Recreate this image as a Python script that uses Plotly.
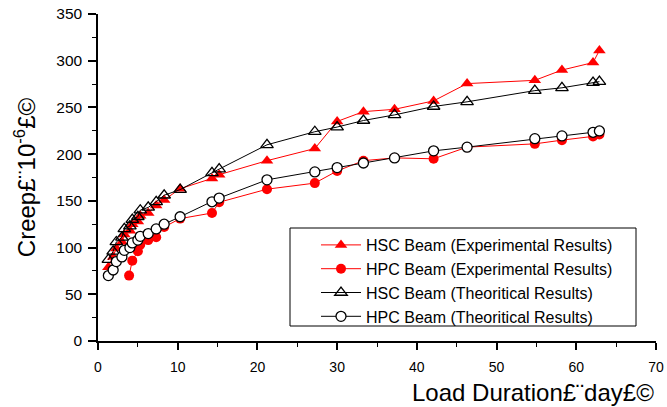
import plotly.graph_objects as go

# Theoretical / HSC experimental share load-duration times
days = [1.3, 1.9, 2.3, 3.0, 3.3, 4.0, 4.3, 5.0, 5.3, 6.3, 7.3, 8.3, 10.3, 14.3, 15.2,
        21.2, 27.2, 30.0, 33.3, 37.2, 42.1, 46.3, 54.8, 58.2, 62.1, 62.9]
hsc_exp = [79, 90, 99, 106, 114, 118, 125, 128, 134, 137, 145, 151, 163, 174, 178,
           193, 206, 235, 245.5, 248, 257, 275.5, 279, 290, 298, 311]
hsc_theo = [87, 96, 106, 111, 120, 123, 130, 133, 140, 143, 149, 156, 162, 180, 184,
            210, 224, 229, 236, 242, 251, 256, 268, 271, 276.5, 277.6]
hpc_theo = [70, 76, 85, 90, 97, 100, 105, 108, 112, 115, 120, 125, 133, 149, 153,
            172.5, 181, 185.6, 190.5, 196, 203.5, 207.5, 216.6, 219.5, 223.4, 224.8]

days_hpc_exp = [3.9, 4.3, 5.0, 5.3, 6.3, 7.3, 8.3, 10.3, 14.3, 15.2, 21.2, 27.2, 30.0,
                33.3, 37.2, 42.1, 46.3, 54.8, 58.2, 62.1, 62.9]
hpc_exp = [70, 86, 96, 103, 108, 111, 122, 131, 137, 148.5, 162.5, 169, 182, 193, 196,
           195, 207.5, 211, 215, 219, 221]

x_ticks = [0, 10, 20, 30, 40, 50, 60, 70]
y_ticks = [0, 50, 100, 150, 200, 250, 300, 350]

FONT = "Liberation Sans, Arial, sans-serif"

fig = go.Figure()
fig.add_trace(go.Scatter(x=days, y=hsc_exp, mode="lines+markers",
                         name="HSC Beam (Experimental Results)",
                         line=dict(color="#ff0000", width=1),
                         marker=dict(symbol="triangle-up", size=11, color="#ff0000")))
fig.add_trace(go.Scatter(x=days_hpc_exp, y=hpc_exp, mode="lines+markers",
                         name="HPC Beam (Experimental Results)",
                         line=dict(color="#ff0000", width=1),
                         marker=dict(symbol="circle", size=10, color="#ff0000")))
fig.add_trace(go.Scatter(x=days, y=hsc_theo, mode="lines+markers",
                         name="HSC Beam (Theoritical Results)",
                         line=dict(color="#000000", width=1),
                         marker=dict(symbol="triangle-up-open", size=11, color="#000000",
                                     line=dict(width=1.3))))
fig.add_trace(go.Scatter(x=days, y=hpc_theo, mode="lines+markers",
                         name="HPC Beam (Theoritical Results)",
                         line=dict(color="#000000", width=1),
                         marker=dict(symbol="circle", size=10, color="#ffffff",
                                     line=dict(width=1.3, color="#000000"))))

# legend frame in paper coordinates (plot area 98..656 x, 14..341 y)
fig.add_shape(type="rect", xref="paper", yref="paper",
              x0=(290 - 98) / 558, x1=(636 - 98) / 558,
              y0=(341 - 326) / 327, y1=(341 - 228) / 327,
              line=dict(color="black", width=1), fillcolor="white", layer="below")

fig.update_layout(
    width=667, height=407,
    margin=dict(l=98, r=11, t=14, b=66, autoexpand=False),
    paper_bgcolor="white", plot_bgcolor="rgba(0,0,0,0)",
    font=dict(family=FONT, size=14, color="black"),
    showlegend=True,
    legend=dict(x=(316 - 98) / 558, y=(341 - 228) / 327, xanchor="left", yanchor="top",
                borderwidth=0, bgcolor="rgba(0,0,0,0)",
                font=dict(size=16, family=FONT), tracegroupgap=0,
                itemwidth=40),
    xaxis=dict(range=[0, 70], tickvals=x_ticks, ticktext=[str(v) for v in x_ticks],
               automargin=False,
               showgrid=False, zeroline=False, showline=True, linecolor="black",
               linewidth=1.5, ticks="outside", ticklen=7, tickwidth=1.5,
               tickcolor="black", tickfont=dict(size=14), ticklabelstandoff=5,
               minor=dict(dtick=5, ticks="outside", ticklen=4, tickwidth=1.2,
                          tickcolor="black", showgrid=False)),
    yaxis=dict(range=[0, 350], tickvals=y_ticks, ticktext=[str(v) for v in y_ticks],
               automargin=False,
               showgrid=False, zeroline=False, showline=True, linecolor="black",
               linewidth=1.5, ticks="outside", ticklen=8, tickwidth=1.5,
               tickcolor="black", tickfont=dict(size=15.5), ticklabelstandoff=3,
               minor=dict(dtick=25, ticks="outside", ticklen=4, tickwidth=1.2,
                          tickcolor="black", showgrid=False),
               title=dict(text="Creep£¨10<sup>-6</sup>£©", font=dict(size=24),
                          standoff=14)),
    annotations=[dict(text="Load Duration£¨day£©", xref="paper", yref="paper",
                      x=1.0, y=-0.11, xanchor="right", yanchor="top",
                      showarrow=False, font=dict(size=24, family=FONT))],
)

fig.write_html("out.html", config={"displayModeBar": False},
               post_script="document.body.style.margin='0';"
                           "document.documentElement.style.overflow='hidden';"
                           "document.body.style.overflow='hidden';")
